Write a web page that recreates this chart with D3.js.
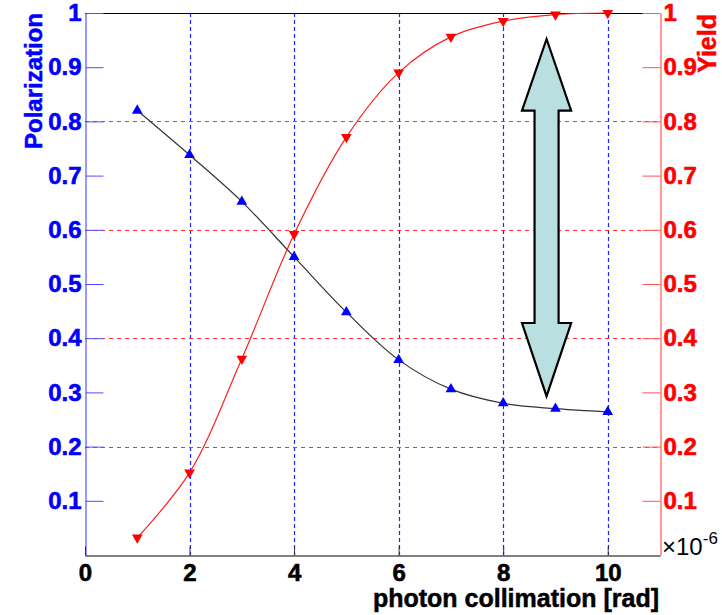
<!DOCTYPE html>
<html>
<head>
<meta charset="utf-8">
<script src="https://cdn.jsdelivr.net/npm/d3@7"></script>
<style>
  body { margin: 0; background: #fff; }
  text { font-family: "Liberation Sans", Arial, sans-serif; font-weight: bold; }
</style>
</head>
<body>
<svg id="chart" width="722" height="615"></svg>
<script>
// collimation angle (x 10^-6 rad)
const collimation = [1, 2, 3, 4, 5, 6, 7, 8, 9, 10];
const polarization = [0.82, 0.738, 0.652, 0.55, 0.448, 0.36, 0.306, 0.28, 0.27, 0.264];
const yieldValues = [0.032, 0.152, 0.362, 0.592, 0.771, 0.89, 0.956, 0.985, 0.997, 1.0];

const xTicks = [0, 2, 4, 6, 8, 10];
const yTicks = [0.1, 0.2, 0.3, 0.4, 0.5, 0.6, 0.7, 0.8, 0.9, 1];
const xGrid = [2, 4, 6, 8, 10];
const yGrid = [0.2, 0.4, 0.6, 0.8];

// double arrow annotation, in data units
const arrowX = 8.83;
const arrowTop = 0.952, arrowBottom = 0.293;
const arrowHeadTop = 0.82, arrowHeadBottom = 0.428;
const arrowHeadHalf = 0.47, arrowShaftHalf = 0.23;

const mLeft = 85, mRight = 660, mTop = 13, mBottom = 555;
const svg = d3.select('#chart');
svg.append('rect').attr('width', 722).attr('height', 615).attr('fill', '#fff');

const xs = d3.scaleLinear().domain([0, 11]).range([mLeft, mRight]);
const ys = d3.scaleLinear().domain([0, 1]).range([mBottom, mTop]);
const fmt = function (d) { return d ? String(+d.toFixed(1)) : ''; };

// grid
svg.append('g').selectAll('line').data(xGrid).enter().append('line')
    .attr('x1', d => Math.round(xs(d)) + 0.5).attr('x2', d => Math.round(xs(d)) + 0.5)
    .attr('y1', mTop).attr('y2', mBottom)
    .attr('stroke', '#2222ff').attr('stroke-width', 1.2).attr('stroke-dasharray', '4,3');
svg.append('g').selectAll('line').data(yGrid).enter().append('line')
    .attr('x1', mLeft).attr('x2', mRight)
    .attr('y1', d => Math.round(ys(d)) + 0.5).attr('y2', d => Math.round(ys(d)) + 0.5)
    .attr('stroke', '#ff3030').attr('stroke-width', 1.2).attr('stroke-dasharray', '4,4');

// top frame
svg.append('line').attr('x1', mLeft).attr('x2', mRight).attr('y1', mTop + 0.5).attr('y2', mTop + 0.5)
    .attr('stroke', '#000');

// curves
const line = d3.line().x((d, i) => xs(collimation[i])).y(d => ys(d)).curve(d3.curveCatmullRom.alpha(0.5));
svg.append('path').datum(polarization).attr('d', line)
    .attr('fill', 'none').attr('stroke', '#333').attr('stroke-width', 1.2);
svg.append('path').datum(yieldValues).attr('d', line)
    .attr('fill', 'none').attr('stroke', '#ff2020').attr('stroke-width', 1.2);

// markers
const tri = d3.symbol().type(d3.symbolTriangle).size(50);
svg.append('g').selectAll('path').data(polarization).enter().append('path')
    .attr('d', tri)
    .attr('transform', (d, i) => 'translate(' + xs(collimation[i]) + ',' + ys(d) + ')')
    .attr('fill', '#0000ff');
svg.append('g').selectAll('path').data(yieldValues).enter().append('path')
    .attr('d', tri)
    .attr('transform', (d, i) => 'translate(' + xs(collimation[i]) + ',' + ys(d) + ') rotate(180)')
    .attr('fill', '#ff0000');

// arrow
const ax = xs(arrowX);
const hw = xs(arrowX + arrowHeadHalf) - ax, sw = xs(arrowX + arrowShaftHalf) - ax;
const arrowPts = [
    [ax, ys(arrowTop)], [ax + hw, ys(arrowHeadTop)], [ax + sw, ys(arrowHeadTop)],
    [ax + sw, ys(arrowHeadBottom)], [ax + hw, ys(arrowHeadBottom)], [ax, ys(arrowBottom)],
    [ax - hw, ys(arrowHeadBottom)], [ax - sw, ys(arrowHeadBottom)], [ax - sw, ys(arrowHeadTop)],
    [ax - hw, ys(arrowHeadTop)]
];
svg.append('polygon').attr('points', arrowPts.map(p => p.join(',')).join(' '))
    .attr('fill', '#b9dfe1').attr('stroke', '#000').attr('stroke-width', 2.2)
    .attr('stroke-linejoin', 'miter');

// left axis (blue)
const gl = svg.append('g').attr('transform', 'translate(' + (mLeft + 0.5) + ',0)');
gl.call(d3.axisLeft(ys).ticks(50).tickSize(-9).tickSizeOuter(0).tickFormat(''));
gl.call(d3.axisLeft(ys).tickValues(yTicks).tickSize(-18).tickSizeOuter(0).tickPadding(4).tickFormat(fmt));
gl.selectAll('.domain').attr('stroke', '#3333ff');
gl.selectAll('line').attr('stroke', '#4d4dff');
gl.selectAll('text').attr('fill', '#0000ff').attr('stroke', '#0000ff').attr('stroke-width', 0.6)
    .style('font-size', '24px');
gl.attr('font-family', null).attr('font-size', null);

// right axis (red)
const gr = svg.append('g').attr('transform', 'translate(' + (mRight + 0.5) + ',0)');
gr.call(d3.axisRight(ys).ticks(50).tickSize(-9).tickSizeOuter(0).tickFormat(''));
gr.call(d3.axisRight(ys).tickValues(yTicks).tickSize(-18).tickSizeOuter(0).tickPadding(3).tickFormat(fmt));
gr.selectAll('.domain').attr('stroke', '#ff3333');
gr.selectAll('line').attr('stroke', '#ff5555');
gr.selectAll('text').attr('fill', '#ff0000').attr('stroke', '#ff0000').attr('stroke-width', 0.6)
    .style('font-size', '24px');
gr.attr('font-family', null).attr('font-size', null);

// bottom axis
const gb = svg.append('g').attr('transform', 'translate(0,' + (mBottom + 0.5) + ')');
gb.call(d3.axisBottom(xs).ticks(22).tickSize(-9).tickSizeOuter(0).tickFormat(''));
gb.call(d3.axisBottom(xs).tickValues(xTicks).tickSize(-9).tickSizeOuter(0).tickPadding(8).tickFormat(d => d));
gb.selectAll('.domain').attr('stroke', '#000');
gb.selectAll('line').attr('stroke', '#333');
gb.selectAll('text').attr('fill', '#000').attr('stroke', '#000').attr('stroke-width', 0.6)
    .style('font-size', '24px');
gb.attr('font-family', null).attr('font-size', null);

// exponent label
const ex = svg.append('text').attr('x', mRight + 2).attr('y', mBottom)
    .attr('fill', '#000').style('font-size', '24px').style('font-weight', 'normal');
ex.append('tspan').text('\u00d710');
ex.append('tspan').attr('dy', -11).style('font-size', '17px').text('-6');

// titles
svg.append('text').attr('transform', 'translate(42,' + mTop + ') rotate(-90)')
    .attr('text-anchor', 'end').attr('fill', '#0000ff').attr('stroke', '#0000ff').attr('stroke-width', 0.5)
    .style('font-size', '24px').text('Polarization');
svg.append('text').attr('transform', 'translate(716,' + (mTop + 1) + ') rotate(-90)')
    .attr('text-anchor', 'end').attr('fill', '#ff0000').attr('stroke', '#ff0000').attr('stroke-width', 0.5)
    .style('font-size', '25px').text('Yield');
svg.append('text').attr('x', mRight - 1).attr('y', 607)
    .attr('text-anchor', 'end').attr('fill', '#000').attr('stroke', '#000').attr('stroke-width', 0.5)
    .style('font-size', '25px').text('photon collimation [rad]');
</script>
</body>
</html>
